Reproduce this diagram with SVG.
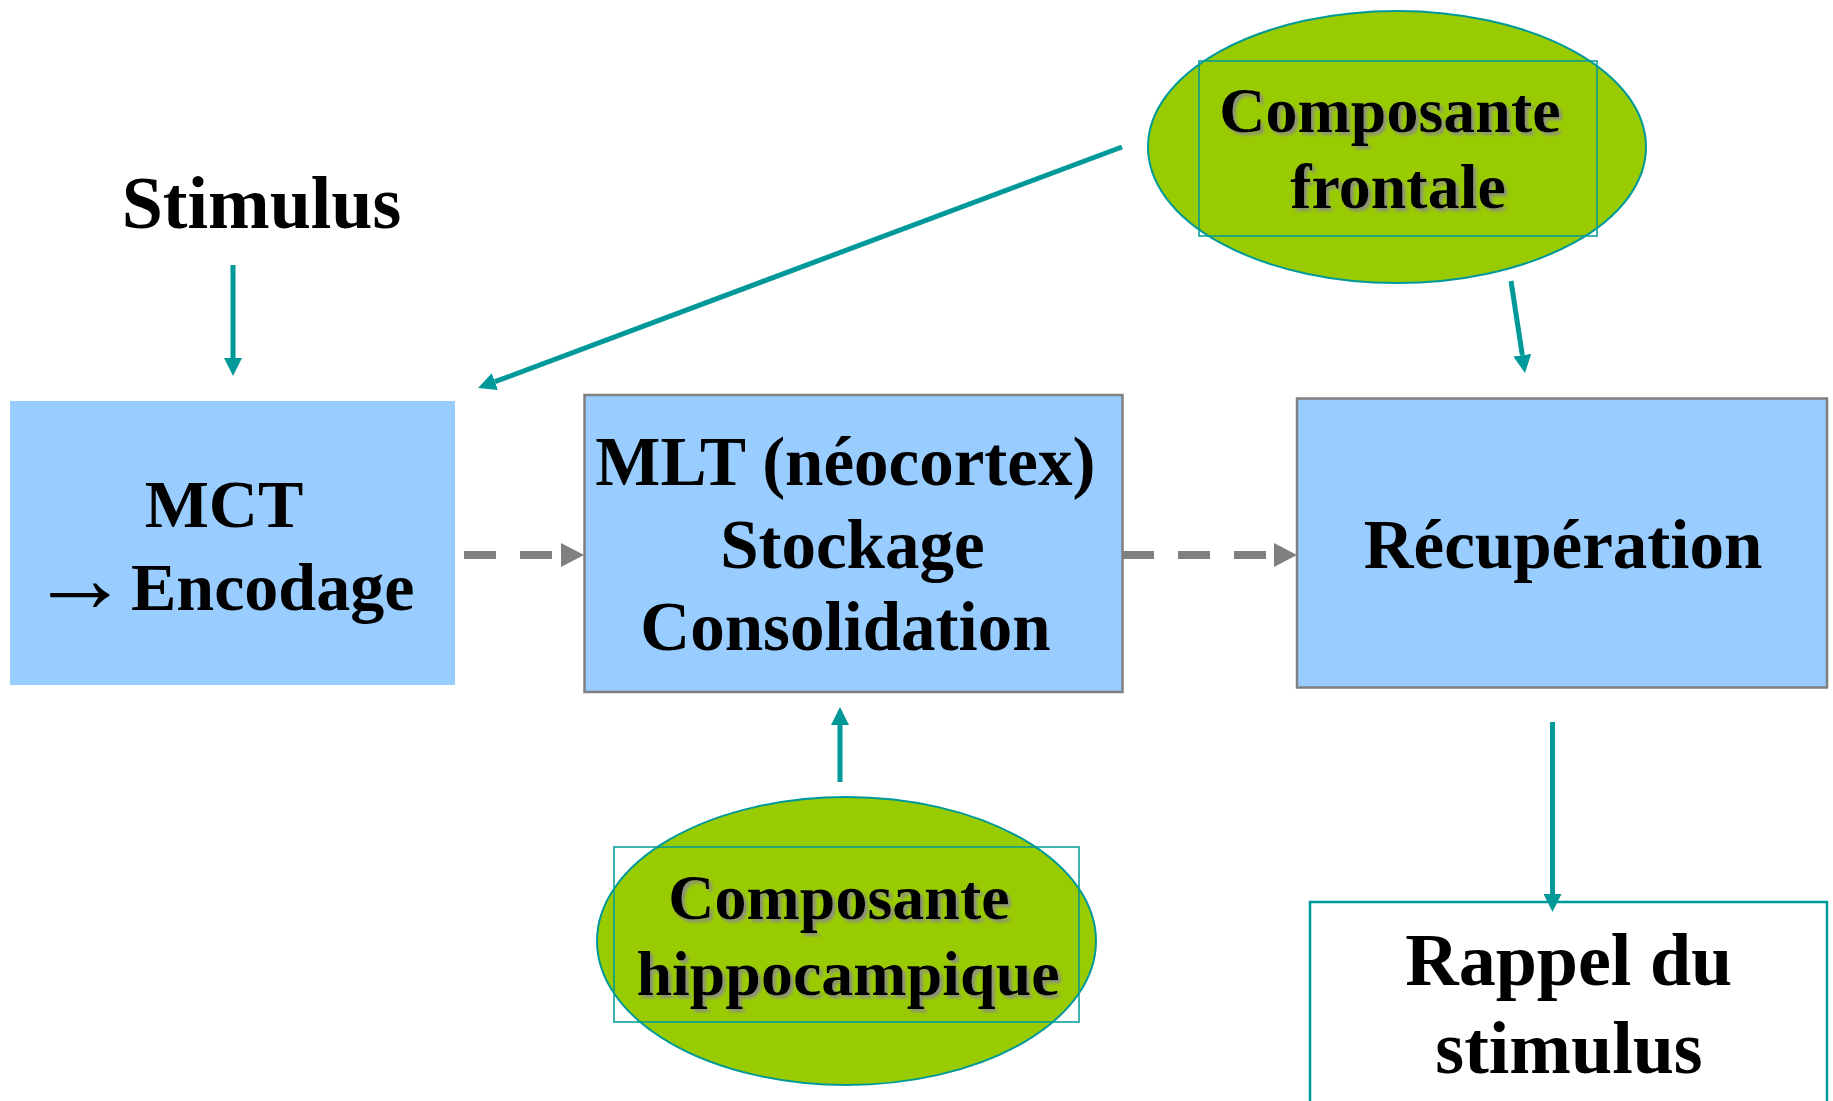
<svg xmlns="http://www.w3.org/2000/svg" width="1833" height="1101" viewBox="0 0 1833 1101">
  <style>
    .lbl { font-family: "Liberation Serif", "Times New Roman", serif; font-weight: bold; fill: #000; }
    .mid { text-anchor: middle; }
    .box { fill: #99CCFF; }
    .boxline { stroke: #808080; stroke-width: 2.5; }
    .oval { fill: #99CC00; stroke: #009999; stroke-width: 2; }
    .frame { fill: none; stroke: #009999; stroke-width: 1.5; }
    .teal { stroke: #009999; stroke-width: 5; fill: none; marker-end: url(#headTeal); }
    .dash { stroke: #808080; stroke-width: 8; fill: none; stroke-dasharray: 32 24; marker-end: url(#headGray); }
  </style>
  <defs>
    <marker id="headTeal" markerUnits="userSpaceOnUse" markerWidth="18" markerHeight="18" refX="0" refY="9" orient="auto">
      <path d="M0,0 L18,9 L0,18 z" fill="#009999"/>
    </marker>
    <marker id="headGray" markerUnits="userSpaceOnUse" markerWidth="24" markerHeight="24" refX="0" refY="12" orient="auto">
      <path d="M0,0 L23,12 L0,24 z" fill="#808080"/>
    </marker>
    <filter id="shadow" x="-10%" y="-20%" width="120%" height="140%">
      <feGaussianBlur in="SourceAlpha" stdDeviation="1.5" result="b"/>
      <feOffset in="b" dx="2.5" dy="2.5" result="o"/>
      <feFlood flood-color="#8a8a8a" flood-opacity="0.9"/>
      <feComposite in2="o" operator="in" result="s"/>
      <feMerge>
        <feMergeNode in="s"/>
        <feMergeNode in="SourceGraphic"/>
      </feMerge>
    </filter>
  </defs>

  <rect width="1833" height="1101" fill="#ffffff"/>

  <g id="stimulus">
    <text class="lbl mid" x="261.5" y="228" font-size="74">Stimulus</text>
  </g>

  <g id="mct">
    <rect class="box" x="10" y="401" width="445" height="284"/>
    <text class="lbl mid" x="224" y="527" font-size="68">MCT</text>
    <text class="lbl" x="30" y="612" font-size="100">→</text>
    <text class="lbl" x="131" y="610" font-size="68">Encodage</text>
  </g>

  <g id="mlt">
    <rect class="box boxline" x="584.5" y="395" width="538" height="297"/>
    <text class="lbl mid" font-size="69">
      <tspan x="854" y="485">MLT (néocortex)</tspan>
      <tspan x="861" y="568">Stockage</tspan>
      <tspan x="845.5" y="650">Consolidation</tspan>
    </text>
  </g>

  <g id="recuperation">
    <rect class="box boxline" x="1297" y="398.5" width="530" height="289"/>
    <text class="lbl mid" x="1563" y="568" font-size="69">Récupération</text>
  </g>

  <g id="rappel">
    <rect x="1310" y="902" width="517" height="210" fill="#ffffff" stroke="#009999" stroke-width="2.5"/>
    <text class="lbl mid" font-size="74">
      <tspan x="1578" y="985">Rappel du</tspan>
      <tspan x="1569" y="1073">stimulus</tspan>
    </text>
  </g>

  <g id="frontale">
    <ellipse class="oval" cx="1397" cy="147" rx="249" ry="136"/>
    <rect class="frame" x="1199" y="61" width="398" height="175"/>
    <g filter="url(#shadow)">
      <text class="lbl mid" font-size="64">
        <tspan x="1398" y="132">Composante</tspan>
        <tspan x="1398" y="208">frontale</tspan>
      </text>
    </g>
  </g>

  <g id="hippocampique">
    <ellipse class="oval" cx="846.5" cy="941" rx="249.5" ry="144"/>
    <rect class="frame" x="614" y="847" width="465" height="175"/>
    <g filter="url(#shadow)">
      <text class="lbl mid" font-size="64">
        <tspan x="847" y="919">Composante</tspan>
        <tspan x="848" y="995">hippocampique</tspan>
      </text>
    </g>
  </g>

  <g id="connectors">
    <!-- stimulus into short-term memory -->
    <line class="teal" x1="233" y1="265" x2="233" y2="358"/>
    <!-- frontal component back to encoding -->
    <line class="teal" x1="1122" y1="147" x2="494.9" y2="381.7"/>
    <!-- frontal component to retrieval -->
    <line class="teal" x1="1511" y1="281" x2="1522.3" y2="355.2"/>
    <!-- hippocampal component up to storage -->
    <line class="teal" x1="840" y1="782" x2="840" y2="725"/>
    <!-- retrieval down to recall -->
    <line class="teal" x1="1552.5" y1="722" x2="1552.5" y2="894"/>
    <!-- processing chain -->
    <line class="dash" x1="464" y1="555" x2="561" y2="555"/>
    <line class="dash" x1="1122" y1="555" x2="1274" y2="555"/>
  </g>
</svg>
